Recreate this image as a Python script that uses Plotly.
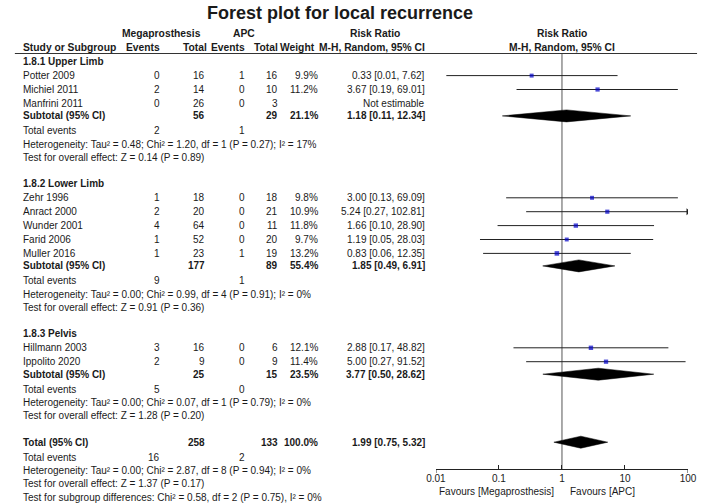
import math
import plotly.graph_objects as go

# ---------------- data ----------------
group_names = ["1.8.1 Upper Limb", "1.8.2 Lower Limb", "1.8.3 Pelvis"]

study = ["Potter 2009", "Michiel 2011", "Manfrini 2011",
         "Zehr 1996", "Anract 2000", "Wunder 2001", "Farid 2006", "Muller 2016",
         "Hillmann 2003", "Ippolito 2020"]
study_group = [0, 0, 0, 1, 1, 1, 1, 1, 2, 2]
ev_mega = [0, 2, 0, 1, 2, 4, 1, 1, 3, 2]
n_mega = [16, 14, 26, 18, 20, 64, 52, 23, 16, 9]
ev_apc = [1, 0, 0, 0, 0, 0, 0, 1, 0, 0]
n_apc = [16, 10, 3, 18, 21, 11, 20, 19, 6, 9]
weight = [9.9, 11.2, None, 9.8, 10.9, 11.8, 9.7, 13.2, 12.1, 11.4]
rr = [0.33, 3.67, None, 3.00, 5.24, 1.66, 1.19, 0.83, 2.88, 5.00]
rr_lo = [0.0146, 0.19, None, 0.13, 0.27, 0.095, 0.05, 0.056, 0.17, 0.27]
rr_hi = [7.62, 69.01, None, 69.09, 102.81, 28.90, 28.03, 12.35, 48.82, 91.52]
rr_label = ["0.33 [0.01, 7.62]", "3.67 [0.19, 69.01]", "Not estimable",
            "3.00 [0.13, 69.09]", "5.24 [0.27, 102.81]", "1.66 [0.10, 28.90]",
            "1.19 [0.05, 28.03]", "0.83 [0.06, 12.35]",
            "2.88 [0.17, 48.82]", "5.00 [0.27, 91.52]"]

sub_n_mega = [56, 177, 25]
sub_n_apc = [29, 89, 15]
sub_weight = [21.1, 55.4, 23.5]
sub_ev_mega = [2, 9, 5]
sub_ev_apc = [1, 1, 0]
sub_rr = [1.18, 1.85, 3.77]
sub_lo = [0.113, 0.495, 0.497]
sub_hi = [12.34, 6.91, 28.62]
sub_label = ["1.18 [0.11, 12.34]", "1.85 [0.49, 6.91]", "3.77 [0.50, 28.62]"]
sub_het = ["Heterogeneity: Tau² = 0.48; Chi² = 1.20, df = 1 (P = 0.27); I² = 17%",
           "Heterogeneity: Tau² = 0.00; Chi² = 0.99, df = 4 (P = 0.91); I² = 0%",
           "Heterogeneity: Tau² = 0.00; Chi² = 0.07, df = 1 (P = 0.79); I² = 0%"]
sub_test = ["Test for overall effect: Z = 0.14 (P = 0.89)",
            "Test for overall effect: Z = 0.91 (P = 0.36)",
            "Test for overall effect: Z = 1.28 (P = 0.20)"]

tot_n_mega, tot_n_apc, tot_weight = 258, 133, 100.0
tot_ev_mega, tot_ev_apc = 16, 2
tot_rr, tot_lo, tot_hi = 1.99, 0.744, 5.32
tot_label = "1.99 [0.75, 5.32]"
tot_het = "Heterogeneity: Tau² = 0.00; Chi² = 2.87, df = 8 (P = 0.94); I² = 0%"
tot_test = "Test for overall effect: Z = 1.37 (P = 0.17)"
tot_sub = "Test for subgroup differences: Chi² = 0.58, df = 2 (P = 0.75), I² = 0%"

axis_ticks = [0.01, 0.1, 1, 10, 100]
axis_ticktext = ["0.01", "0.1", "1", "10", "100"]

# ---------------- layout constants ----------------
W, H = 708, 504
FONT = "Liberation Sans, Arial, sans-serif"
HFONT = FONT
HSIZE = 10.3
TXT = "#1a1a1a"
COL_NAME = 11.7
COL_EV1, COL_N1, COL_EV2, COL_N2, COL_W, COL_RR = 156, 202.5, 243.5, 277, 318.5, 428.5
AX_Y = 469
X_LO, X_HI = 437.7, 696.7

# compute row positions
y = 61.7
rows = []  # (kind, index, y)
for g in range(3):
    if g > 0:
        y += 26.3
    rows.append(("group", g, y))
    for i, sg in enumerate(study_group):
        if sg == g:
            y += 13.9
            rows.append(("study", i, y))
    y += 12.5; rows.append(("sub", g, y))
    y += 15.0; rows.append(("subev", g, y))
    y += 13.4; rows.append(("subhet", g, y))
    y += 13.3; rows.append(("subtest", g, y))
y += 26.3; rows.append(("tot", 0, y))
y += 15.0; rows.append(("totev", 0, y))
y += 13.4; rows.append(("tothet", 0, y))
y += 13.3; rows.append(("tottest", 0, y))
y += 13.9; rows.append(("totsub", 0, y))

ann = []


def txt(x, yy, s, anchor="left", bold=False, size=10, font=FONT, xref="x"):
    ann.append(dict(x=x, y=yy, xref=xref, yref="y", text=("<b>%s</b>" % s) if bold else s,
                    showarrow=False, xanchor=anchor, yanchor="middle",
                    font=dict(family=font, size=size, color=TXT)))


def pct(v):
    return "%.1f%%" % v

# title
txt(339, 12.5, "Forest plot for local recurrence", "center", True, 18)
# headers
HY1, HY2 = 33.5, 47.5
txt(156, HY1, "Megaprosthesis", "center", True, HSIZE, HFONT)
txt(240.5, HY1, "APC", "center", True, HSIZE, HFONT)
txt(375, HY1, "Risk Ratio", "center", True, HSIZE, HFONT)
txt(0, HY1, "Risk Ratio", "center", True, HSIZE, HFONT, xref="x2")
txt(COL_NAME, HY2, "Study or Subgroup", "left", True, HSIZE, HFONT)
txt(COL_EV1, HY2, "Events", "right", True, HSIZE, HFONT)
txt(COL_N1 + 1.5, HY2, "Total", "right", True, HSIZE, HFONT)
txt(COL_EV2, HY2, "Events", "right", True, HSIZE, HFONT)
txt(COL_N2, HY2, "Total", "right", True, HSIZE, HFONT)
txt(COL_W - 3, HY2, "Weight", "right", True, HSIZE, HFONT)
txt(COL_RR, HY2, "M-H, Random, 95% CI", "right", True, HSIZE, HFONT)
txt(0, HY2, "M-H, Random, 95% CI", "center", True, HSIZE, HFONT, xref="x2")

fig = go.Figure()

ci_x, ci_y = [], []
pt_x, pt_y, pt_s = [], [], []
arrow_x, arrow_y = [], []
diamonds = []

for kind, i, yy in rows:
    if kind == "group":
        txt(COL_NAME, yy, group_names[i], bold=True)
    elif kind == "study":
        txt(COL_NAME, yy, study[i])
        txt(COL_EV1, yy, str(ev_mega[i]), "right")
        txt(COL_N1, yy, str(n_mega[i]), "right")
        txt(COL_EV2, yy, str(ev_apc[i]), "right")
        txt(COL_N2, yy, str(n_apc[i]), "right")
        if weight[i] is not None:
            txt(COL_W, yy, pct(weight[i]), "right")
        txt(COL_RR, yy, rr_label[i], "right")
        if rr[i] is not None:
            hi = min(rr_hi[i], axis_ticks[-1])
            ci_x += [rr_lo[i], hi, None]
            ci_y += [yy, yy, None]
            pt_x.append(rr[i]); pt_y.append(yy)
            pt_s.append(4.2 * math.sqrt(weight[i] / 11.0))
            if rr_hi[i] > axis_ticks[-1]:
                arrow_x.append(axis_ticks[-1]); arrow_y.append(yy)
    elif kind == "sub":
        txt(COL_NAME, yy, "Subtotal (95% CI)", bold=True)
        txt(COL_N1, yy, str(sub_n_mega[i]), "right", True)
        txt(COL_N2, yy, str(sub_n_apc[i]), "right", True)
        txt(COL_W, yy, pct(sub_weight[i]), "right", True)
        txt(COL_RR, yy, sub_label[i], "right", True)
        diamonds.append((sub_lo[i], sub_rr[i], sub_hi[i], yy))
    elif kind == "subev":
        txt(COL_NAME, yy, "Total events")
        txt(COL_EV1, yy, str(sub_ev_mega[i]), "right")
        txt(COL_EV2, yy, str(sub_ev_apc[i]), "right")
    elif kind == "subhet":
        txt(COL_NAME, yy, sub_het[i])
    elif kind == "subtest":
        txt(COL_NAME, yy, sub_test[i])
    elif kind == "tot":
        txt(COL_NAME, yy, "Total (95% CI)", bold=True)
        txt(COL_N1, yy, str(tot_n_mega), "right", True)
        txt(COL_N2, yy, str(tot_n_apc), "right", True)
        txt(COL_W, yy, pct(tot_weight), "right", True)
        txt(COL_RR, yy, tot_label, "right", True)
        diamonds.append((tot_lo, tot_rr, tot_hi, yy))
    elif kind == "totev":
        txt(COL_NAME, yy, "Total events")
        txt(COL_EV1, yy, str(tot_ev_mega), "right")
        txt(COL_EV2, yy, str(tot_ev_apc), "right")
    elif kind == "tothet":
        txt(COL_NAME, yy, tot_het)
    elif kind == "tottest":
        txt(COL_NAME, yy, tot_test)
    elif kind == "totsub":
        txt(COL_NAME, yy, tot_sub)

# header rule
fig.add_trace(go.Scatter(x=[5, 706], y=[53.5, 53.5], mode="lines", xaxis="x", yaxis="y",
                         line=dict(color="#333", width=1), hoverinfo="skip", showlegend=False))
# line of no effect
fig.add_trace(go.Scatter(x=[1, 1], y=[54, AX_Y], mode="lines", xaxis="x2", yaxis="y",
                         line=dict(color="#555", width=1), hoverinfo="skip", showlegend=False))
# CI lines
fig.add_trace(go.Scatter(x=ci_x, y=ci_y, mode="lines", xaxis="x2", yaxis="y",
                         line=dict(color="#222", width=1), hoverinfo="skip", showlegend=False))
# arrows for truncated CIs
fig.add_trace(go.Scatter(x=arrow_x, y=arrow_y, mode="markers", xaxis="x2", yaxis="y",
                         marker=dict(symbol="triangle-right", size=6, color="#222"),
                         hoverinfo="skip", showlegend=False))
# study points
fig.add_trace(go.Scatter(x=pt_x, y=pt_y, mode="markers", xaxis="x2", yaxis="y",
                         marker=dict(symbol="square", size=pt_s, color="#0000c8",
                                     line=dict(width=0)),
                         hoverinfo="skip", showlegend=False))
# diamonds
for lo, mid, hi, yy in diamonds:
    fig.add_trace(go.Scatter(x=[lo, mid, hi, mid, lo], y=[yy, yy - 6, yy, yy + 6, yy],
                             mode="lines", fill="toself", fillcolor="#000",
                             xaxis="x2", yaxis="y", line=dict(color="#000", width=0.5),
                             hoverinfo="skip", showlegend=False))
# end ticks extending below the axis
fig.add_trace(go.Scatter(x=[axis_ticks[0], axis_ticks[0], None, axis_ticks[-1], axis_ticks[-1]],
                         y=[AX_Y, AX_Y + 4, None, AX_Y, AX_Y + 4], mode="lines",
                         xaxis="x2", yaxis="y", line=dict(color="#222", width=1),
                         hoverinfo="skip", showlegend=False))

# favours labels
ann.append(dict(x=0, y=491, xref="x2", yref="y", text="Favours [Megaprosthesis]",
                showarrow=False, xanchor="right", yanchor="middle", xshift=-6,
                font=dict(family=FONT, size=10, color=TXT)))
ann.append(dict(x=0, y=491, xref="x2", yref="y", text="Favours [APC]",
                showarrow=False, xanchor="left", yanchor="middle", xshift=6,
                font=dict(family=FONT, size=10, color=TXT)))

fig.update_layout(
    width=W, height=H, margin=dict(l=0, r=0, t=0, b=0),
    paper_bgcolor="white", plot_bgcolor="rgba(0,0,0,0)",
    showlegend=False, annotations=ann,
    xaxis=dict(range=[0, W], domain=[0, 1], visible=False, fixedrange=True),
    yaxis=dict(range=[H, 0], domain=[0, 1], visible=False, fixedrange=True),
    xaxis2=dict(type="log", range=[-2, 2], domain=[X_LO / W, X_HI / W],
                anchor="free", position=1 - AX_Y / H, side="bottom",
                showline=True, linecolor="#222", linewidth=1,
                ticks="inside", ticklen=4, tickcolor="#222", tickwidth=1,
                tickvals=axis_ticks, ticktext=axis_ticktext,
                tickfont=dict(family=FONT, size=10, color=TXT),
                showgrid=False, zeroline=False, fixedrange=True),
)

fig.write_html("out.html", config={"displayModeBar": False},
               post_script="document.body.style.margin='0';document.body.style.overflow='hidden';")
